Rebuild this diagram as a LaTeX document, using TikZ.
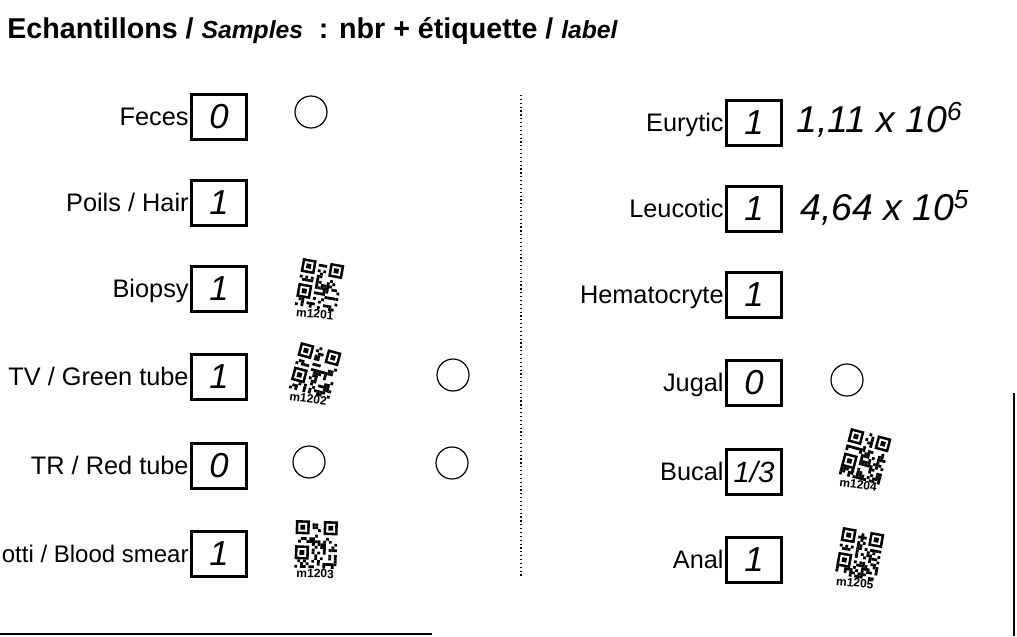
\documentclass[tikz,border=0pt]{standalone}
\usepackage{fontspec}
\setmainfont{Liberation Sans}
\tikzset{
  lbl/.style={anchor=base east, font=\fontsize{19}{20}\selectfont, inner sep=1pt, yshift=-6.2pt},
  cnt/.style={draw, line width=2.2pt, minimum width=41pt, minimum height=34pt, inner sep=0pt,
              font=\fontsize{26}{28}\selectfont\itshape},
  ring/.style={draw, circle, line width=0.9pt, minimum size=24pt, inner sep=0pt},
  hand/.style={anchor=west, inner sep=0pt, font=\fontsize{28}{30}\selectfont\itshape},
  qrtxt/.style={anchor=north, inner sep=0pt, font=\bfseries\fontsize{9}{10}\selectfont},
}
\newcommand{\qrtag}[5]{%
  \begin{scope}[shift={(#1,#2)}, rotate=#3]
    \pgfmathsetseed{#4}
    \foreach \i in {0,...,14}{\foreach \j in {0,...,16}{
      \pgfmathtruncatemacro{\qrz}{(\i<6)*(\j<6)+(\i>8)*(\j<6)+(\i<6)*(\j>7)*(\j<14)}
      \pgfmathrandominteger{\qrr}{0}{1}
      \ifnum\qrz=0 \ifnum\qrr=1 \fill (\i*2.8,\j*2.8) rectangle ++(2.8,2.8); \fi\fi
    }}
    \foreach \fx/\fy in {0/0, 28/0, 0/25.2}{
      \fill (\fx,\fy) rectangle ++(14,14);
      \fill[white] (\fx+2.6,\fy+2.6) rectangle ++(8.8,8.8);
      \fill (\fx+4.6,\fy+4.6) rectangle ++(4.8,4.8);
    }
    \node[qrtxt, rotate={0.5*(#3)}] (#5) at (21,48.5) {#5};
  \end{scope}}
\begin{document}
\begin{tikzpicture}[x=0.75pt, y=-0.75pt]
  \useasboundingbox (0,0) rectangle (1017,636);
  \clip (0,0) rectangle (1017,636);
  \fill[white] (0,0) rectangle (1017,636);

  % title
  \node[anchor=base west, inner sep=0pt, font=\bfseries\fontsize{21.5}{24}\selectfont] (title) at (7,38)
    {Echantillons / {\itshape\fontsize{18.5}{20}\selectfont Samples} \ : nbr + étiquette / {\itshape\fontsize{18.5}{20}\selectfont label}};

  % left column
  \node[cnt] (f1) at (219,117) {0};
  \node[cnt] (f2) at (219,203) {1};
  \node[cnt] (f3) at (219,289) {1};
  \node[cnt] (f4) at (219,377) {1};
  \node[cnt] (f5) at (219,466) {0};
  \node[cnt] (f6) at (219,554) {1};
  \node[lbl] (l1) at (f1.west) {Feces};
  \node[lbl] (l2) at (f2.west) {Poils / Hair};
  \node[lbl] (l3) at (f3.west) {Biopsy};
  \node[lbl] (l4) at (f4.west) {TV / Green tube};
  \node[lbl] (l5) at (f5.west) {TR / Red tube};
  \node[lbl, font=\fontsize{18}{20}\selectfont] (l6) at (f6.west) {otti / Blood smear};

  \node[ring] (c1) at (311,112) {};
  \node[ring] (c2) at (453,375) {};
  \node[ring] (c3) at (309,462) {};
  \node[ring] (c4) at (452,463) {};

  \qrtag{303}{258}{-10}{11}{m1201}
  \qrtag{301}{342}{-15}{22}{m1202}
  \qrtag{296}{520}{-2}{33}{m1203}

  % divider
  \coordinate (dTop) at (521,95);
  \coordinate (dBot) at (521,578);
  \draw[dotted, line width=0.9pt] (dTop) -- (dBot);

  % right column
  \node[cnt] (r1) at (754,123) {1};
  \node[cnt] (r2) at (754,209) {1};
  \node[cnt] (r3) at (754,295) {1};
  \node[cnt] (r4) at (754,383) {0};
  \node[cnt, font=\fontsize{22}{24}\selectfont\itshape] (r5) at (754,472) {1/3};
  \node[cnt] (r6) at (754,560) {1};
  \node[lbl] (k1) at (r1.west) {Eurytic};
  \node[lbl] (k2) at (r2.west) {Leucotic};
  \node[lbl] (k3) at (r3.west) {Hematocryte};
  \node[lbl] (k4) at (r4.west) {Jugal};
  \node[lbl] (k5) at (r5.west) {Bucal};
  \node[lbl] (k6) at (r6.west) {Anal};

  \node[ring] (c5) at (847,380) {};

  \node[hand] (h1) at (796,120) {1,11 x 10\textsuperscript{6}};
  \node[hand] (h2) at (800,208) {4,64 x 10\textsuperscript{5}};

  \qrtag{851}{428}{-15}{44}{m1204}
  \qrtag{843}{527}{-10}{55}{m1205}

  % frame remnants
  \coordinate (bL) at (0,634);
  \coordinate (bR) at (432,634);
  \draw[line width=1.8pt] (bL) -- (bR);
  \coordinate (rT) at (1014,393);
  \coordinate (rB) at (1014,636);
  \draw[line width=1.8pt] (rT) -- (rB);
\end{tikzpicture}
\end{document}
